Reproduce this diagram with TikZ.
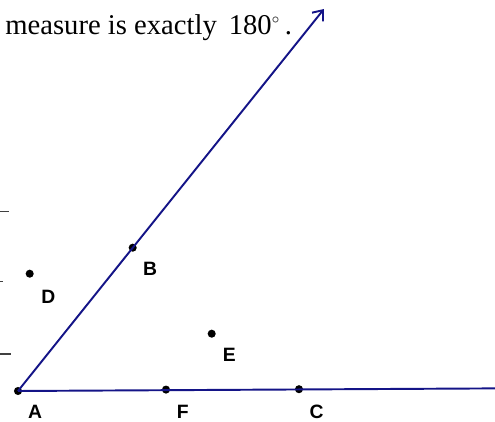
\documentclass[tikz,border=0pt]{standalone}
\usepackage{fontspec}
\setmainfont{Liberation Serif}
\setsansfont{Liberation Sans}
\usetikzlibrary{arrows.meta}

\definecolor{raynavy}{RGB}{20,20,135}

\begin{document}
\begin{tikzpicture}[x=0.02cm, y=-0.02cm, >={Straight Barb[length=5pt, width=8pt]},
  dot/.style={circle, fill=black, inner sep=0pt, minimum size=4.6pt},
  ptlabel/.style={font=\sffamily\bfseries\fontsize{11}{13}\selectfont, inner sep=0pt},
  ray/.style={raynavy, line width=1.1pt}]

\useasboundingbox (0,0) rectangle (495,422);

% Caption text at the top
\node[anchor=base west, inner sep=0pt, font=\fontsize{16.3}{20}\selectfont] (caption) at (5,35)
  {measure is exactly \,180$^{\scriptscriptstyle\circ}$\,.};

% Points
\node[dot] (A) at (18,391) {};
\node[dot] (B) at (132.7,247.7) {};
\node[dot] (D) at (29.7,273.7) {};
\node[dot] (E) at (211.7,333.7) {};
\node[dot] (F) at (166,389.6) {};
\node[dot] (C) at (299,389.2) {};

% Ray ends
\coordinate (tipB) at (324,9);
\coordinate (endC) at (495,388.4);

% Rays
\draw[ray, ->] (A.center) -- (tipB);
\draw[ray] (A.center) -- (endC);

% Point labels
\node[ptlabel] (labA) at (35,411.7) {A};
\node[ptlabel] (labB) at (150,269) {B};
\node[ptlabel] (labC) at (316.7,411.7) {C};
\node[ptlabel] (labD) at (48.3,296.7) {D};
\node[ptlabel] (labE) at (229.3,355) {E};
\node[ptlabel] (labF) at (182.7,411.7) {F};

% Ticks on the left edge
\draw[black!75, line width=0.8pt] (0,211.7) -- (9,211.7);
\draw[black!75, line width=0.8pt] (0,281.7) -- (3,281.7);
\draw[black!75, line width=0.8pt] (0,354) -- (11,354);

\end{tikzpicture}
\end{document}
